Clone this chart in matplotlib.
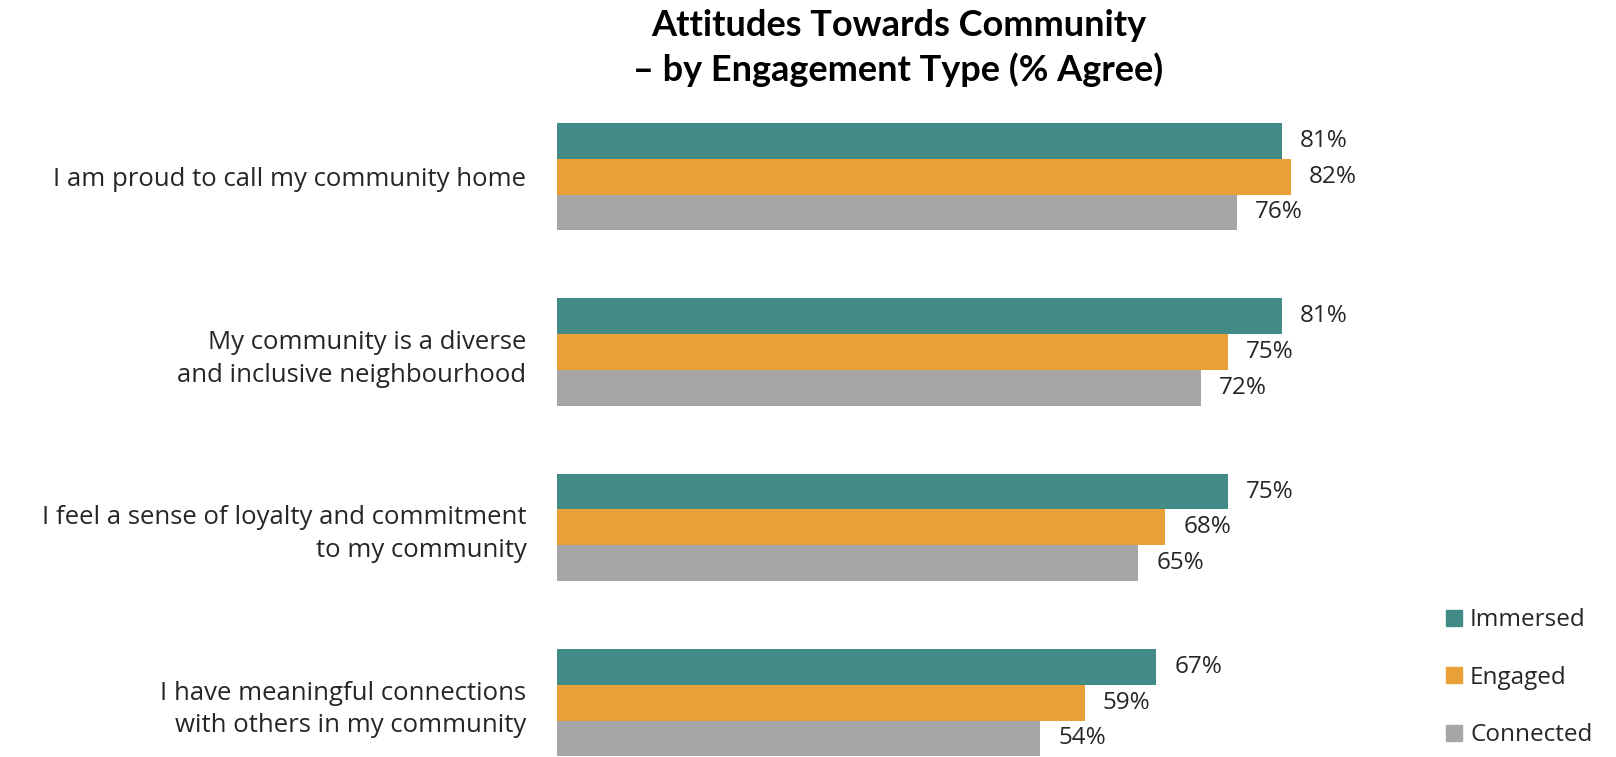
import numpy as np
import matplotlib
matplotlib.use("Agg")
import matplotlib.pyplot as plt
from matplotlib.patches import Patch

plt.rcParams['font.family'] = ['Open Sans', 'DejaVu Sans']

# data
statements = ["I am proud to call my community home",
              "My community is a diverse\nand inclusive neighbourhood",
              "I feel a sense of loyalty and commitment\nto my community",
              "I have meaningful connections\nwith others in my community"]
series = ["Immersed", "Engaged", "Connected"]
immersed = [81, 81, 75, 67]
engaged = [82, 75, 68, 59]
connected = [76, 72, 65, 54]
colors = ["#438B87", "#E9A036", "#A6A6A6"]

fig = plt.figure(figsize=(16.16, 7.57), dpi=100)
ax = fig.add_axes([557 / 1616, 0, 823 / 1616, 668 / 757])

y = np.arange(len(statements))
h = 0.204
text_col = "#262626"
for k, (vals, col) in enumerate(zip([immersed, engaged, connected], colors)):
    bars = ax.barh(y + (k - 1) * h, vals, height=h, color=col)
    ax.bar_label(bars, labels=[f"{v}%" for v in vals], padding=13,
                 fontsize=17.5, color=text_col)

ax.set_xlim(0, 92)
ax.set_ylim(3.31, -0.5)
ax.set_yticks(y)
ax.set_yticklabels(statements, fontsize=18.5, color=text_col, linespacing=1.4)
ax.tick_params(axis='y', length=0, pad=22)
ax.set_xticks([])
for s in ax.spines.values():
    s.set_visible(False)

fig.text(0.556, 0.988, "Attitudes Towards Community\n\u2013 by Engagement Type (% Agree)",
         ha='center', va='top', fontsize=26, fontweight='bold', color='black',
         family=['Lato', 'DejaVu Sans'], linespacing=1.35)

handles = [Patch(color=c) for c in colors]
fig.legend(handles, series, loc='lower left', bbox_to_anchor=(1436 / 1616, 0.0),
           frameon=False, fontsize=17.5, handlelength=0.65, handleheight=0.65,
           handletextpad=0.35, labelspacing=1.38, labelcolor=text_col,
           borderaxespad=0.0)

fig.savefig("out.png", dpi=100)
